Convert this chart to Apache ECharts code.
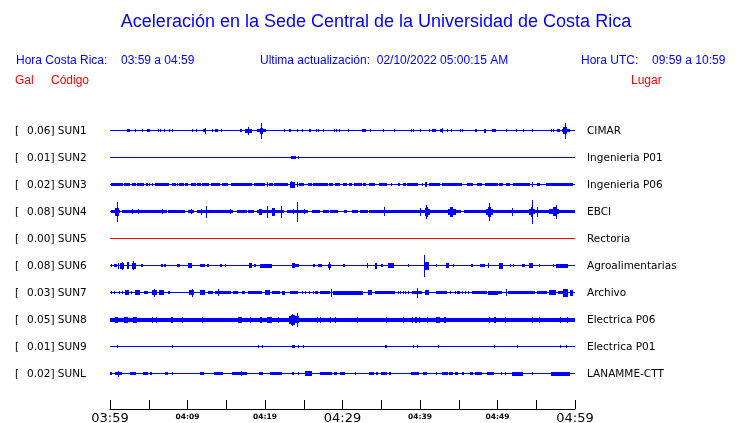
<!DOCTYPE html>
<html>
<head>
<meta charset="utf-8">
<script src="https://cdn.jsdelivr.net/npm/echarts@6/dist/echarts.min.js"></script>
<style>
html,body{margin:0;padding:0;background:#fff;}
#chart{width:740px;height:423px;}
</style>
</head>
<body>
<div id="chart"></div>
<script>
// ---------------- DATA ----------------
const stationCodes = ['SUN1','SUN2','SUN3','SUN4','SUN5','SUN6','SUN7','SUN8','SUN9','SUNL'];
const galValues = ['0.06','0.01','0.02','0.08','0.00','0.08','0.03','0.05','0.01','0.02'];
const places = ['CIMAR','Ingenieria P01','Ingenieria P06','EBCI','Rectoria','Agroalimentarias','Archivo','Electrica P06','Electrica P01','LANAMME-CTT'];
// noise floor half-amplitude of each trace (trace units)
const noiseFloor = [0.5,0.5,0.5,0.5,0.5,0.5,0.5,2,0.5,0.5];
const tickMinutes = [0,10,20,30,40,50,60];
const tickLabels = ['03:59','04:09','04:19','04:29','04:39','04:49','04:59'];
const majorLabels = ['03:59','04:29','04:59'];
const headerCR = '03:59 a 04:59';
const headerUTC = '09:59 a 10:59';
const updated = '02/10/2022 05:00:15 AM';

// envelope bursts per station: [startMinute, endMinute, halfAmplitude]
const sun1 = [[2.2,2.6,1.5],[3.2,3.2,1.3],[4.1,4.1,1.3],[4.8,5.2,1.5],[6.2,6.2,1.3],[6.5,6.5,1.3],[7.0,7.0,1.3],[7.6,7.6,1.3],[8.0,8.0,1.3],[10.6,10.6,1.3],[11.1,11.1,1.3],[12.0,12.3,1.3],[12.2,12.2,3],[13.2,13.2,1.3],[13.6,13.9,1.5],[14.3,14.3,1.3],[16.8,17.0,1.8],[17.4,18.3,2],[17.8,17.8,4],[19.0,19.3,1.7],[19.3,19.8,3],[19.8,20.1,1.7],[19.5,19.5,8],[22.5,22.5,1.3],[23.1,23.4,1.5],[24.1,24.1,1.3],[24.8,24.8,1.3],[25.7,25.9,1.5],[26.6,26.6,1.3],[26.9,26.9,1.3],[27.5,27.5,1.3],[28.9,28.9,1.3],[29.2,29.2,1.3],[29.6,29.6,1.3],[30.7,30.7,1.3],[32.5,33.0,1.5],[33.6,33.6,1.3],[35.2,35.2,1.3],[36.7,36.7,1.3],[38.9,38.9,1.3],[39.1,39.1,1.3],[40.0,40.0,1.3],[41.2,41.2,1.3],[41.6,42.1,1.7],[42.6,43.0,1.7],[42.8,42.8,2.5],[43.5,43.5,1.3],[44.0,44.0,1.3],[45.1,45.1,1.3],[45.4,45.4,1.3],[47.1,47.4,1.7],[48.3,48.5,2],[49.3,49.8,1.5],[51.1,51.1,1.3],[52.4,52.4,1.3],[53.3,53.3,1.3],[54.4,54.6,1.5],[56.9,56.9,1.3],[57.2,57.2,1.3],[57.7,58.1,1.7],[58.3,58.5,1.7],[58.5,59.0,3.5],[59.0,59.4,1.7],[58.7,58.7,8]];
const sun2 = [[23.4,24.0,1.7],[24.3,24.3,1.3]];
const sun3 = [[0.1,1.7,1.7],[1.8,2.6,1.7],[2.8,3.4,1.7],[3.5,4.4,1.7],[4.6,4.9,1.7],[5.0,5.2,1.7],[5.4,5.6,1.7],[5.8,6.0,1.7],[6.1,7.6,1.7],[8.0,8.5,1.7],[8.7,8.7,1.7],[8.9,9.6,1.7],[9.7,10.1,1.7],[10.5,11.1,1.7],[11.2,11.8,1.7],[11.9,12.8,1.7],[13.0,14.2,1.7],[14.5,15.2,1.7],[15.6,18.3,1.7],[18.6,20.0,1.7],[20.2,20.2,2.5],[20.5,21.0,1.7],[21.2,23.0,1.7],[23.2,23.9,3],[23.4,23.4,3.5],[24.1,24.1,2.5],[24.4,25.0,1.7],[25.6,26.0,1.7],[26.2,28.1,1.7],[28.3,28.8,1.7],[29.0,29.7,1.7],[30.1,30.3,1.7],[30.3,30.6,1.7],[30.9,31.2,1.7],[31.5,32.5,1.7],[32.7,33.0,1.7],[33.4,34.2,1.7],[34.7,35.8,1.7],[36.2,36.4,1.7],[37.1,37.4,1.7],[37.8,38.2,1.7],[38.3,39.8,1.7],[40.2,40.4,1.7],[40.7,40.9,2.5],[41.1,42.6,1.7],[42.9,45.4,1.7],[46.1,46.9,1.7],[47.4,48.0,1.7],[48.4,50.0,1.7],[50.2,50.7,1.7],[51.1,51.6,1.7],[52.0,54.2,1.7],[54.5,54.5,2.5],[55.1,55.5,1.7],[56.3,59.8,1.7]];
const sun4 = [[0.1,1.3,1.7],[1.5,7.4,1.7],[7.5,9.7,1.7],[10.1,10.8,1.7],[11.2,15.9,1.7],[16.4,17.7,1.7],[17.8,18.6,1.7],[19.0,22.5,1.7],[22.9,25.6,1.7],[26.1,27.1,1.7],[27.5,28.2,1.7],[28.4,29.4,1.7],[30.2,30.6,1.7],[31.2,32.0,1.7],[32.3,33.3,1.7],[33.4,45.3,1.7],[45.7,60,1.7],[0.6,1.2,4],[0.9,0.9,10],[2.8,2.8,2.5],[3.6,3.6,2.5],[6.7,6.7,2.5],[10.5,10.5,2.5],[11.8,11.9,3],[12.4,12.4,6],[15.5,15.5,2.5],[19.2,19.6,3],[20.3,20.3,6],[20.9,21.3,4],[22.1,22.1,6],[23.6,23.6,2.5],[24.1,24.1,10],[25.0,25.0,2.5],[35.4,35.4,4.5],[40.0,40.0,4],[40.6,40.8,4],[40.8,41.0,5],[41.0,41.3,3],[40.8,40.8,7],[43.6,43.9,3],[43.9,44.2,5],[44.2,44.6,3],[48.5,48.8,3],[48.8,49.1,5],[49.1,49.4,3],[48.9,48.9,9],[51.9,51.9,4],[54.0,54.3,3],[54.3,54.6,5],[54.6,54.8,2.5],[54.4,54.4,12],[55.1,55.1,5],[56.6,57.2,2.5],[57.2,57.6,4.5],[57.6,57.9,2.5],[57.5,57.5,7]];
const sun5 = [];
const sun6 = [[0.1,0.3,1.5],[0.5,0.9,1.5],[1.0,1.0,3],[1.3,1.8,3],[1.5,1.5,4],[2.2,2.5,3.5],[2.8,3.4,3],[3.0,3.0,4.5],[4.0,4.3,1.5],[6.6,6.8,1.5],[7.0,7.2,1.5],[8.7,9.0,1.5],[10.1,10.6,2.5],[11.6,12.3,1.5],[12.5,12.8,1.3],[14.2,14.5,1.5],[14.8,14.8,1.5],[17.9,18.3,2.5],[18.6,18.9,1.3],[19.4,20.9,2],[23.5,23.9,2.5],[23.9,24.4,1.7],[26.2,26.5,1.5],[26.9,27.4,1.5],[28.1,28.5,2],[28.3,28.3,4],[30.0,30.3,1.5],[33.1,33.2,2.5],[34.2,34.5,3],[35.0,35.2,1.5],[35.9,36.7,2.5],[38.5,38.5,1.3],[40.5,40.5,11],[40.7,41.2,4],[42.0,42.0,1.5],[43.4,43.8,2.5],[44.3,44.3,1.3],[46.6,46.9,1.5],[47.8,48.4,1.7],[48.8,48.8,2.5],[50.2,50.7,3],[51.6,51.6,1.3],[52.0,52.0,1.3],[53.2,53.6,1.7],[54.0,54.6,2.5],[55.4,55.4,1.5],[57.1,57.1,1.3],[57.6,59.1,2]];
const sun7 = [[0.1,0.1,1.3],[0.5,0.6,1.3],[1.2,1.2,1.3],[1.5,1.7,1.3],[1.9,2.5,2.5],[2.7,2.8,1.3],[3.2,3.9,2.5],[4.4,4.9,1.5],[5.4,6.1,2.5],[5.7,5.7,4],[6.3,7.0,2.5],[7.5,7.7,1.3],[10.2,10.8,2.5],[10.6,10.6,4],[11.6,12.3,2.5],[12.7,13.3,1.3],[13.6,15.6,1.7],[13.9,13.9,3.5],[15.9,16.5,1.7],[17.0,17.4,1.3],[17.8,19.6,1.7],[20.0,20.7,2.5],[20.9,21.9,1.3],[22.2,22.6,2],[23.2,24.3,1.7],[24.8,24.8,1.3],[25.2,25.2,1.3],[25.7,25.7,1.3],[26.2,26.2,1.3],[26.5,26.9,1.3],[27.1,28.4,1.7],[28.5,28.5,4],[28.8,32.7,2],[33.3,33.8,2.5],[34.2,36.8,1.7],[37.1,37.1,1.3],[37.4,37.4,1.3],[37.8,37.8,1.3],[38.1,38.1,1.3],[38.5,38.5,1.3],[39.0,40.3,1.7],[39.6,39.6,5],[40.7,41.1,2.5],[42.0,43.5,1.7],[43.9,43.9,1.3],[44.5,44.5,1.3],[44.8,45.2,1.3],[45.4,45.4,1.3],[45.8,45.8,1.3],[46.2,46.2,1.3],[46.7,48.7,1.7],[48.8,50.0,2],[50.1,50.6,1.3],[51.1,51.1,3.5],[51.4,52.0,1.3],[52.0,54.9,1.7],[55.1,56.4,1.5],[56.6,57.5,2.5],[57.8,58.4,1.3],[58.4,59.1,4],[59.4,59.8,3]];
const sun8 = [[0.6,1.0,3],[1.8,2.3,3],[3.0,3.5,3],[5.4,5.4,3],[5.9,5.9,3],[7.9,8.1,3],[9.3,9.3,3],[11.9,11.9,3],[16.5,17.0,3],[18.1,18.1,3],[19.4,19.6,3],[20.3,20.9,3],[21.7,21.7,3],[23.1,23.4,4],[23.4,23.9,5],[23.9,24.4,3.5],[23.5,23.5,6],[24.1,24.1,7],[26.7,26.9,3],[27.1,27.1,3],[28.4,28.4,3],[29.0,29.0,3],[31.9,32.0,3],[35.6,35.6,3],[37.8,37.8,3],[39.0,39.0,3],[39.4,39.6,3],[39.9,40.0,3],[40.9,40.9,3],[42.1,42.6,3],[43.1,43.4,3],[48.9,48.9,3],[49.6,49.8,3],[51.0,51.0,3],[54.5,54.5,3],[55.3,55.3,3],[58.0,58.0,3],[59.0,59.0,3]];
const sun9 = [[0.9,0.9,1.5],[8.0,8.0,1.3],[19.1,19.1,1.3],[19.6,19.6,1.3],[23.5,23.9,1.5],[24.3,24.3,1.5],[24.9,24.9,1.3],[35.5,35.8,1.3],[39.1,39.1,1.3],[39.6,39.6,1.3],[42.3,42.3,1.3],[49.5,49.5,1.5],[52.5,52.5,1.3],[58.0,58.0,1.3],[58.9,58.9,1.3]];
const sunL = [[0.0,0.3,1.3],[0.6,1.5,1.7],[1.0,1.0,3],[2.6,3.4,1.7],[4.3,4.9,1.7],[5.2,5.4,1.3],[7.1,7.5,1.3],[8.0,8.0,1.3],[11.6,12.1,1.5],[13.4,14.6,1.7],[15.8,17.7,1.7],[16.9,16.9,2.5],[19.2,19.8,1.7],[20.7,22.2,1.5],[23.5,23.8,1.5],[24.3,24.3,1.5],[25.2,26.0,2.5],[27.1,28.7,1.7],[28.9,29.3,1.3],[29.7,30.3,1.3],[31.6,31.6,1.3],[33.4,34.0,1.5],[34.3,34.6,1.3],[35.0,35.8,1.7],[36.0,36.3,1.5],[38.9,39.9,1.7],[40.4,40.9,1.5],[42.0,42.2,1.3],[42.9,43.6,1.5],[43.8,44.3,1.3],[44.5,44.9,1.5],[45.4,45.7,1.3],[46.5,46.9,1.3],[47.1,48.0,1.5],[48.7,49.5,1.5],[50.4,50.4,1.3],[51.0,51.0,1.3],[51.9,53.3,2],[54.5,54.5,1.3],[56.9,59.4,2]];
const bursts = [sun1,sun2,sun3,sun4,sun5,sun6,sun7,sun8,sun9,sunL];

// ---------------- STYLE ----------------
const BLUE = '#0000ff', RED = '#ff0000';
const traceColors = [BLUE,BLUE,BLUE,BLUE,RED,BLUE,BLUE,BLUE,BLUE,BLUE];
const ROW = 27;            // trace spacing in y units (1 unit = 1 px)
const Y_MAX = 306;
const GRID = {left:110, top:103, width:465, height:306, containLabel:false, outerBoundsMode:'none'};
function rowBase(i){ return ROW*(i+1) + 0.5; }

const chart = echarts.init(document.getElementById('chart'), null, {renderer:'canvas'});

const series = bursts.map(function(list, i){
  const data = [[0, 60, noiseFloor[i]]].concat(list);
  const color = traceColors[i];
  return {
    type:'custom',
    name:stationCodes[i],
    silent:true,
    clip:false,
    itemStyle:{color:color},
    data:data,
    renderItem:function(params, api){
      const t0 = api.value(0), t1 = api.value(1), a = api.value(2);
      const b = rowBase(i);
      const p0 = api.coord([t0, b - a]);
      const p1 = api.coord([t1, b + a]);
      let x0 = Math.round(p0[0]), x1 = Math.round(p1[0]);
      if (x1 <= x0) x1 = x0 + 1;
      let y0 = Math.round(Math.min(p0[1], p1[1])), y1 = Math.round(Math.max(p0[1], p1[1]));
      if (y1 <= y0) y1 = y0 + 1;
      return {type:'rect', shape:{x:x0, y:y0, width:x1-x0, height:y1-y0}, style:{fill:color, stroke:null}};
    }
  };
});

chart.setOption({
  animation:false,
  backgroundColor:'#ffffff',
  grid:GRID,
  xAxis:{
    type:'value', min:0, max:60, interval:5, position:'bottom',
    axisLine:{show:true, onZero:false, lineStyle:{color:'#000', width:1}},
    axisTick:{show:true, inside:true, length:9, lineStyle:{color:'#000', width:1}},
    splitLine:{show:false},
    axisLabel:{
      margin:2,
      formatter:function(v){
        const k = tickMinutes.indexOf(v);
        if (k < 0) return '';
        const lab = tickLabels[k];
        return majorLabels.indexOf(lab) >= 0 ? '{big|' + lab + '}' : '{small|' + lab + '}';
      },
      rich:{
        big:{fontFamily:'DejaVu Sans', fontSize:13, color:'#000', lineHeight:15},
        small:{fontFamily:'DejaVu Sans', fontSize:7.5, fontWeight:'bold', color:'#000', lineHeight:13}
      }
    }
  },
  yAxis:{type:'value', min:0, max:Y_MAX, inverse:true, show:false},
  series:series
});

// ---------------- TEXT ----------------
const graphics = [];
function txt(x, y, s, o){
  graphics.push({type:'text', x:x, y:y, silent:true, style:Object.assign({
    text:s, fill:BLUE, font:'12px "Liberation Sans", Arial, sans-serif', textVerticalAlign:'middle', textAlign:'left'
  }, o || {})});
}
txt(376, 22, 'Aceleración en la Sede Central de la Universidad de Costa Rica', {font:'18px "Liberation Sans", Arial, sans-serif', textAlign:'center'});
txt(16, 61, 'Hora Costa Rica:');
txt(121, 61, headerCR);
txt(260, 61, 'Ultima actualización:  ' + updated);
txt(581, 61, 'Hora UTC:');
txt(652, 61, headerUTC);
txt(15, 81, 'Gal', {fill:RED});
txt(51, 81, 'Código', {fill:RED});
txt(631, 81, 'Lugar', {fill:RED});

stationCodes.forEach(function(code, i){
  const y = Math.round(chart.convertToPixel({gridIndex:0}, [0, rowBase(i)])[1]);
  const f = '10.5px "DejaVu Sans", sans-serif';
  txt(15, y, '[', {fill:'#000', font:f});
  txt(27, y, galValues[i] + '] ' + code, {fill:'#000', font:f});
  txt(587, y, places[i], {fill:'#000', font:f});
});

chart.setOption({graphic:{elements:graphics}});
</script>
</body>
</html>
